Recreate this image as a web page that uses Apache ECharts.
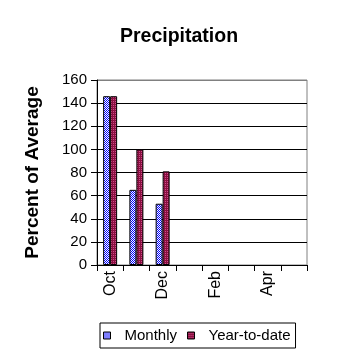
<!DOCTYPE html>
<html>
<head>
<meta charset="utf-8">
<script src="https://cdn.jsdelivr.net/npm/echarts@6/dist/echarts.min.js"></script>
<style>html,body{margin:0;padding:0;background:#fff}#c{width:358px;height:358px}</style>
</head>
<body>
<div id="c"></div>
<script>
var categories = ['Oct', 'Nov', 'Dec', 'Jan', 'Feb', 'Mar', 'Apr', 'May'];
var monthly = [146, 65, 53, null, null, null, null, null];
var yearToDate = [146, 100, 81, null, null, null, null, null];
var yTicks = [0, 20, 40, 60, 80, 100, 120, 140, 160];

function makePattern(kind) {
  var cv = document.createElement('canvas');
  cv.width = 2; cv.height = 2;
  var ctx = cv.getContext('2d');
  if (kind === 'blue') {
    ctx.fillStyle = '#ffffff'; ctx.fillRect(0, 0, 2, 2);
    ctx.fillStyle = '#0000ff'; ctx.fillRect(0, 0, 1, 1); ctx.fillRect(1, 1, 1, 1);
  } else {
    ctx.fillStyle = '#8a1040'; ctx.fillRect(0, 0, 2, 2);
    ctx.fillStyle = '#d04a8a'; ctx.fillRect(1, 1, 1, 1);
  }
  return { image: cv, repeat: 'repeat' };
}

var chart = echarts.init(document.getElementById('c'), null, { renderer: 'canvas' });
var splitColors = yTicks.map(function (v, i) { return i === yTicks.length - 1 ? '#808080' : '#000000'; });

chart.setOption({
  animation: false,
  backgroundColor: '#ffffff',
  title: {
    text: 'Precipitation',
    left: 'center',
    top: 22,
    textStyle: { fontFamily: 'Liberation Sans, Arial, sans-serif', fontSize: 19.5, fontWeight: 'bold', color: '#000' }
  },
  legend: {
    left: 100,
    top: 323,
    orient: 'horizontal',
    data: ['Monthly', 'Year-to-date'],
    itemWidth: 7,
    itemHeight: 7,
    itemGap: 10,
    borderColor: '#000',
    borderWidth: 1,
    padding: [5, 5, 5, 3],
    icon: 'rect',
    itemStyle: { borderColor: '#000', borderWidth: 1 },
    textStyle: { fontFamily: 'Liberation Sans, Arial, sans-serif', fontSize: 15, color: '#000', padding: [0, 0, 0, 9] }
  },
  grid: {
    left: 97, right: 51, top: 80, bottom: 93,
    show: true, borderColor: '#808080', borderWidth: 1, backgroundColor: 'transparent'
  },
  xAxis: {
    type: 'category',
    data: categories,
    boundaryGap: true,
    axisLine: { show: true, lineStyle: { color: '#000', width: 1 } },
    axisTick: { show: true, length: 6, interval: 0, lineStyle: { color: '#000' } },
    axisLabel: {
      interval: 1, rotate: 90, margin: 6,
      fontFamily: 'Liberation Sans, Arial, sans-serif', fontSize: 16, color: '#000'
    },
    splitLine: { show: false }
  },
  yAxis: {
    type: 'value',
    min: 0, max: 160, interval: 20,
    name: 'Percent of Average',
    nameLocation: 'middle',
    nameGap: 55,
    nameTextStyle: { fontFamily: 'Liberation Sans, Arial, sans-serif', fontSize: 19, fontWeight: 'bold', color: '#000' },
    axisLine: { show: true, lineStyle: { color: '#000', width: 1 } },
    axisTick: { show: true, length: 6, lineStyle: { color: '#000' } },
    axisLabel: { margin: 10, fontFamily: 'Liberation Sans, Arial, sans-serif', fontSize: 15, color: '#000' },
    splitLine: { show: true, lineStyle: { color: splitColors, width: 1 } }
  },
  series: [
    {
      name: 'Monthly', type: 'bar', data: monthly,
      barWidth: 7, barGap: '0%',
      itemStyle: { color: makePattern('blue'), borderColor: '#000', borderWidth: 1 }
    },
    {
      name: 'Year-to-date', type: 'bar', data: yearToDate,
      barWidth: 7, barGap: '0%',
      itemStyle: { color: makePattern('red'), borderColor: '#000', borderWidth: 1 }
    }
  ]
});
</script>
</body>
</html>
